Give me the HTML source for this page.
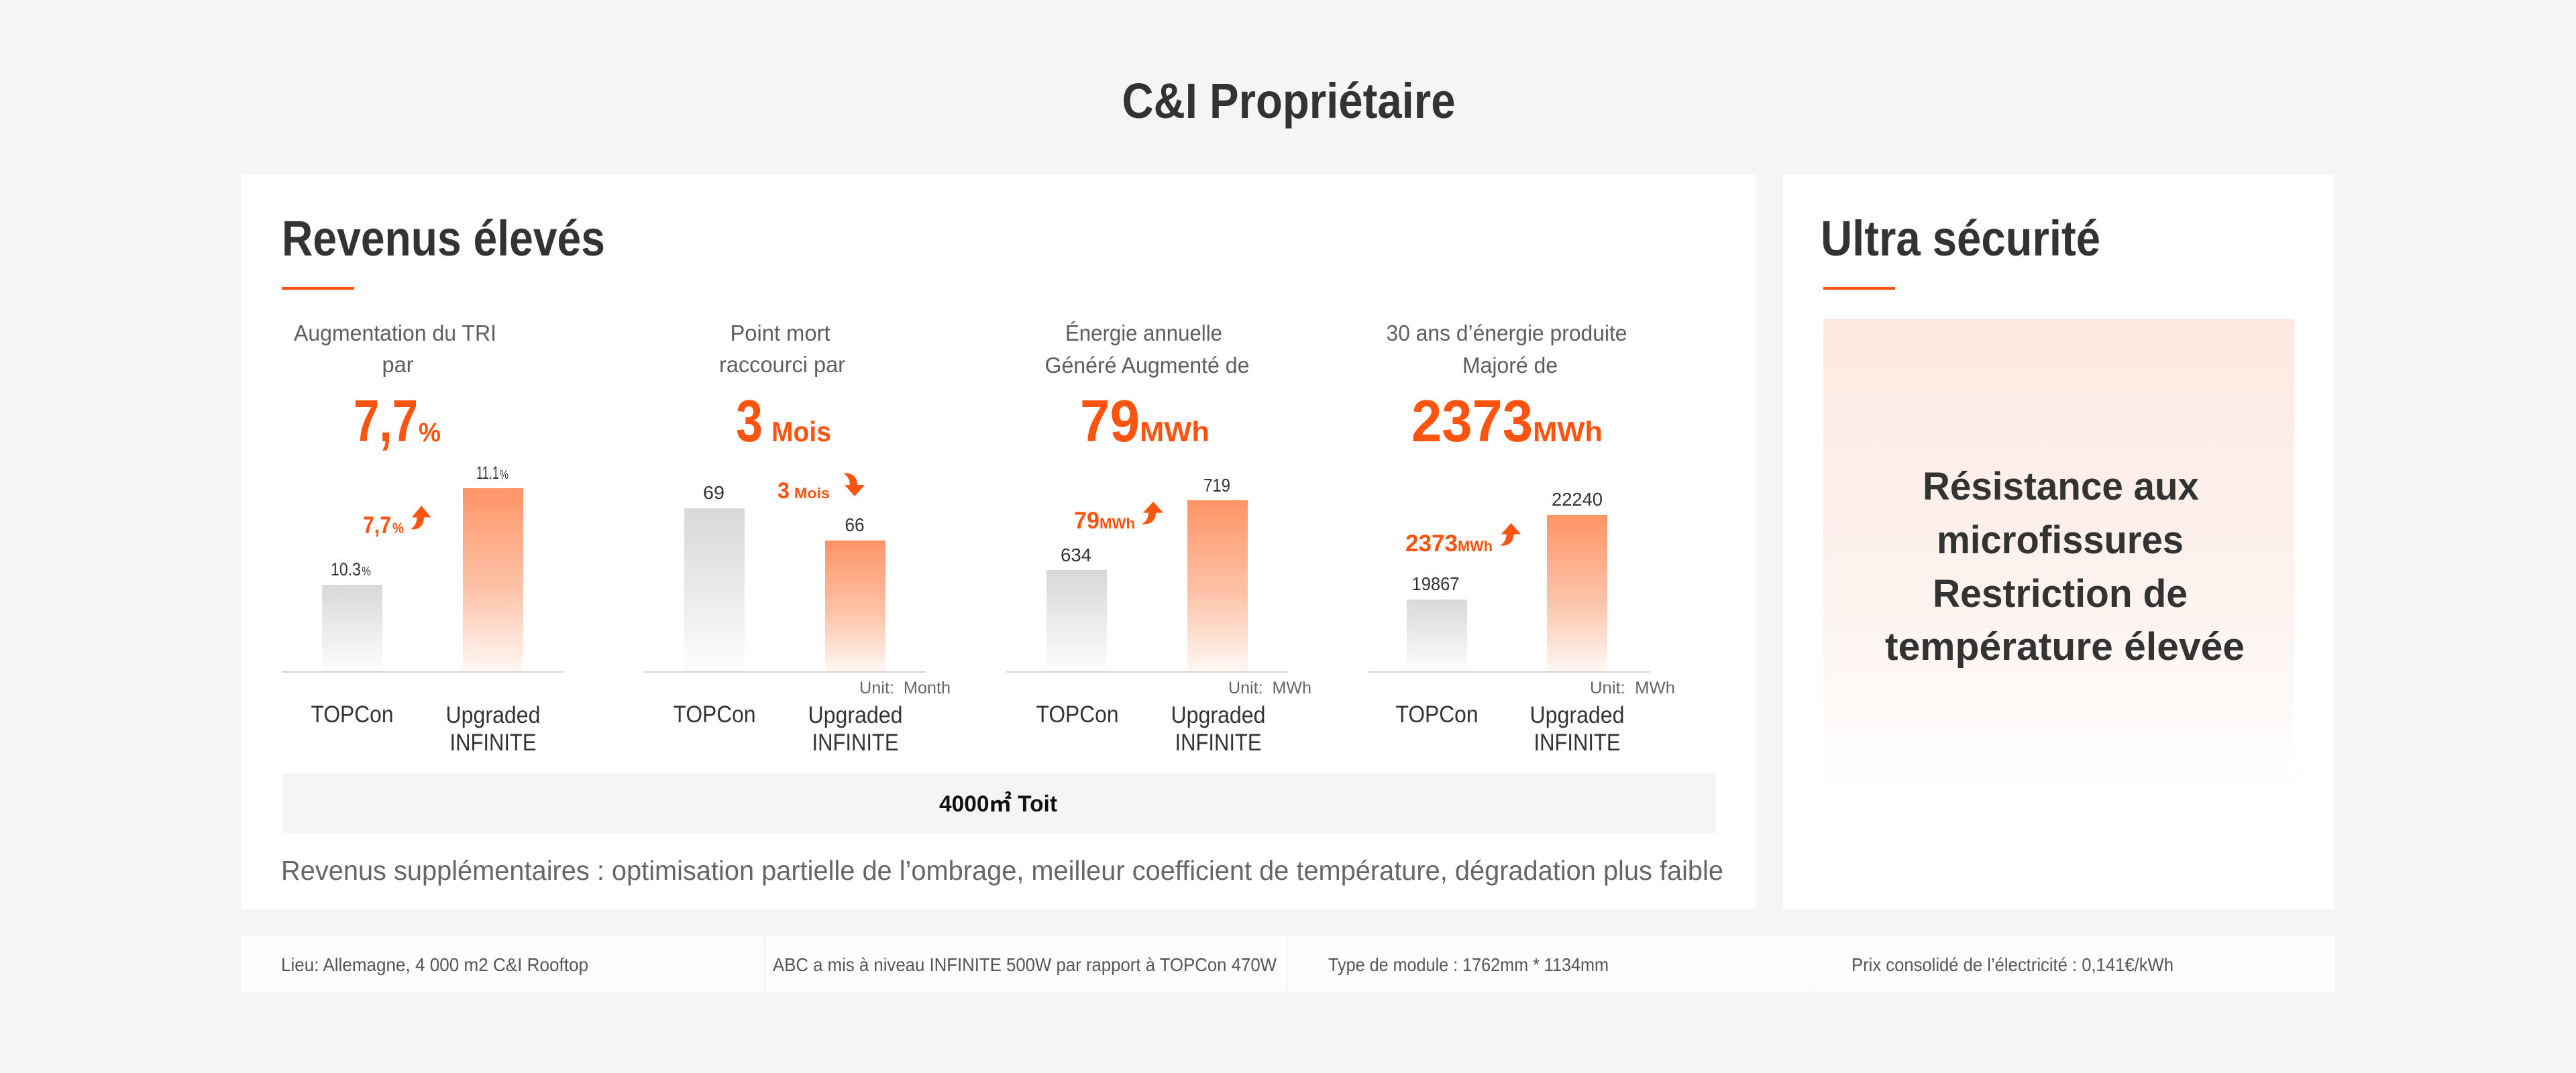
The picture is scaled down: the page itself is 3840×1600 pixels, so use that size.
<!DOCTYPE html>
<html>
<head>
<meta charset="utf-8">
<style>
html,body{margin:0;padding:0;background:#f5f5f5;}
svg{display:block;}
text{font-family:"Liberation Sans","Noto Sans CJK JP",sans-serif;}
</style>
</head>
<body>
<svg width="3840" height="1600" viewBox="0 0 3840 1600" xmlns="http://www.w3.org/2000/svg">
<defs>
<linearGradient id="gb" x1="0" y1="0" x2="0" y2="1">
<stop offset="0" stop-color="#d8d8d8"/>
<stop offset="1" stop-color="#fdfdfd"/>
</linearGradient>
<linearGradient id="ob" x1="0" y1="0" x2="0" y2="1">
<stop offset="0" stop-color="#ff9466"/>
<stop offset="0.55" stop-color="#fdc3a8"/>
<stop offset="1" stop-color="#fff8f4"/>
</linearGradient>
<linearGradient id="pk" x1="0" y1="0" x2="0" y2="1">
<stop offset="0" stop-color="#fde9e1"/>
<stop offset="0.6" stop-color="#fdf3ef"/>
<stop offset="1" stop-color="#ffffff"/>
</linearGradient>
<path id="up" d="M0,34 C14,36 21,28 21,17 L32,17 L17,0 L2,17 L10,17 C10,25 6,31 0,34 Z"/>
</defs>

<rect x="0" y="0" width="3840" height="1600" fill="#f5f5f5"/>

<!-- Title -->
<text x="1921" y="176" font-size="74" font-weight="700" fill="#333" text-anchor="middle" textLength="497" lengthAdjust="spacingAndGlyphs">C&amp;I Propriétaire</text>

<!-- Cards -->
<rect x="360" y="260" width="2258" height="1096" fill="#ffffff"/>
<rect x="2658" y="260" width="821" height="1096" fill="#ffffff"/>

<!-- Left card heading -->
<text x="420" y="381" font-size="74" font-weight="700" fill="#333" textLength="482" lengthAdjust="spacingAndGlyphs">Revenus élevés</text>
<rect x="420" y="428" width="108" height="4" fill="#ff5310"/>

<!-- Column headers -->
<g font-size="33" fill="#5e5e5e" text-anchor="middle">
<text x="589" y="508" textLength="302" lengthAdjust="spacingAndGlyphs">Augmentation du TRI</text>
<text x="593" y="555" textLength="47" lengthAdjust="spacingAndGlyphs">par</text>
<text x="1163" y="508" textLength="149" lengthAdjust="spacingAndGlyphs">Point mort</text>
<text x="1166" y="555" textLength="188" lengthAdjust="spacingAndGlyphs">raccourci par</text>
<text x="1705" y="508" textLength="234" lengthAdjust="spacingAndGlyphs">Énergie annuelle</text>
<text x="1710" y="556" textLength="305" lengthAdjust="spacingAndGlyphs">Généré Augmenté de</text>
<text x="2246" y="508" textLength="359" lengthAdjust="spacingAndGlyphs">30 ans d’énergie produite</text>
<text x="2251" y="556" textLength="142" lengthAdjust="spacingAndGlyphs">Majoré de</text>
</g>

<!-- Big numbers -->
<g font-weight="700" fill="#ff5310">
<text x="527" y="658" font-size="88" textLength="96" lengthAdjust="spacingAndGlyphs">7,7</text>
<text x="624" y="658" font-size="40" textLength="33" lengthAdjust="spacingAndGlyphs">%</text>
<text x="1097" y="658" font-size="88" textLength="40" lengthAdjust="spacingAndGlyphs">3</text>
<text x="1150" y="658" font-size="42" textLength="89" lengthAdjust="spacingAndGlyphs">Mois</text>
<text x="1610" y="658" font-size="88" textLength="89" lengthAdjust="spacingAndGlyphs">79</text>
<text x="1699" y="658" font-size="42" textLength="104" lengthAdjust="spacingAndGlyphs">MWh</text>
<text x="2104" y="658" font-size="88" textLength="181" lengthAdjust="spacingAndGlyphs">2373</text>
<text x="2285" y="658" font-size="42" textLength="104" lengthAdjust="spacingAndGlyphs">MWh</text>
</g>

<!-- Bars -->
<rect x="480" y="872" width="90" height="129" fill="url(#gb)"/>
<rect x="690" y="728" width="90" height="273" fill="url(#ob)"/>
<rect x="1020" y="758" width="90" height="243" fill="url(#gb)"/>
<rect x="1230" y="806" width="90" height="195" fill="url(#ob)"/>
<rect x="1560" y="850" width="90" height="151" fill="url(#gb)"/>
<rect x="1770" y="746" width="90" height="255" fill="url(#ob)"/>
<rect x="2097" y="894" width="90" height="107" fill="url(#gb)"/>
<rect x="2306" y="768" width="90" height="233" fill="url(#ob)"/>

<!-- Axes -->
<rect x="420" y="1001" width="420" height="2" fill="#d2d2d2"/>
<rect x="960" y="1001" width="420" height="2" fill="#d2d2d2"/>
<rect x="1500" y="1001" width="420" height="2" fill="#d2d2d2"/>
<rect x="2040" y="1001" width="420" height="2" fill="#d2d2d2"/>

<!-- Value labels -->
<g fill="#333">
<text x="493" y="858" font-size="27" textLength="45" lengthAdjust="spacingAndGlyphs">10.3</text>
<text x="539" y="858" font-size="18" textLength="14" lengthAdjust="spacingAndGlyphs">%</text>
<text x="710" y="714" font-size="27" textLength="34" lengthAdjust="spacingAndGlyphs">11.1</text>
<text x="745" y="714" font-size="18" textLength="13" lengthAdjust="spacingAndGlyphs">%</text>
<text x="1064" y="744" font-size="28" text-anchor="middle" textLength="32" lengthAdjust="spacingAndGlyphs">69</text>
<text x="1274" y="792" font-size="28" text-anchor="middle" textLength="29" lengthAdjust="spacingAndGlyphs">66</text>
<text x="1604" y="837" font-size="28" text-anchor="middle" textLength="46" lengthAdjust="spacingAndGlyphs">634</text>
<text x="1814" y="733" font-size="28" text-anchor="middle" textLength="40" lengthAdjust="spacingAndGlyphs">719</text>
<text x="2140" y="880" font-size="28" text-anchor="middle" textLength="71" lengthAdjust="spacingAndGlyphs">19867</text>
<text x="2351" y="754" font-size="28" text-anchor="middle" textLength="76" lengthAdjust="spacingAndGlyphs">22240</text>
</g>

<!-- Orange annotations -->
<g font-weight="700" fill="#ff5310">
<text x="541" y="795" font-size="35" textLength="42" lengthAdjust="spacingAndGlyphs">7,7</text>
<text x="585" y="795" font-size="22" textLength="17" lengthAdjust="spacingAndGlyphs">%</text>
<text x="1159" y="743" font-size="34" textLength="18" lengthAdjust="spacingAndGlyphs">3</text>
<text x="1184" y="743" font-size="22" textLength="53" lengthAdjust="spacingAndGlyphs">Mois</text>
<text x="1601" y="788" font-size="35" textLength="38" lengthAdjust="spacingAndGlyphs">79</text>
<text x="1639" y="788" font-size="22" textLength="53" lengthAdjust="spacingAndGlyphs">MWh</text>
<text x="2095" y="822" font-size="35" textLength="78" lengthAdjust="spacingAndGlyphs">2373</text>
<text x="2173" y="822" font-size="22" textLength="52" lengthAdjust="spacingAndGlyphs">MWh</text>
</g>
<g fill="#ff5310">
<use href="#up" transform="translate(612,754) scale(0.95,1.03)"/>
<use href="#up" transform="translate(1702,748) scale(1,0.98)"/>
<use href="#up" transform="translate(2236,780) scale(0.97,0.98)"/>
<use href="#up" transform="translate(1257,740) scale(1,-1)"/>
</g>

<!-- Unit labels -->
<g font-size="25" fill="#666">
<text x="1281" y="1034" textLength="136" lengthAdjust="spacingAndGlyphs">Unit:&#160; Month</text>
<text x="1831" y="1034" textLength="124" lengthAdjust="spacingAndGlyphs">Unit:&#160; MWh</text>
<text x="2370" y="1034" textLength="127" lengthAdjust="spacingAndGlyphs">Unit:&#160; MWh</text>
</g>

<!-- Category labels -->
<g font-size="35" fill="#333" text-anchor="middle">
<text x="525" y="1077" textLength="123" lengthAdjust="spacingAndGlyphs">TOPCon</text>
<text x="735" y="1078" textLength="141" lengthAdjust="spacingAndGlyphs">Upgraded</text>
<text x="735" y="1119" textLength="129" lengthAdjust="spacingAndGlyphs">INFINITE</text>
<text x="1065" y="1077" textLength="123" lengthAdjust="spacingAndGlyphs">TOPCon</text>
<text x="1275" y="1078" textLength="141" lengthAdjust="spacingAndGlyphs">Upgraded</text>
<text x="1275" y="1119" textLength="129" lengthAdjust="spacingAndGlyphs">INFINITE</text>
<text x="1606" y="1077" textLength="123" lengthAdjust="spacingAndGlyphs">TOPCon</text>
<text x="1816" y="1078" textLength="141" lengthAdjust="spacingAndGlyphs">Upgraded</text>
<text x="1816" y="1119" textLength="129" lengthAdjust="spacingAndGlyphs">INFINITE</text>
<text x="2142" y="1077" textLength="123" lengthAdjust="spacingAndGlyphs">TOPCon</text>
<text x="2351" y="1078" textLength="141" lengthAdjust="spacingAndGlyphs">Upgraded</text>
<text x="2351" y="1119" textLength="129" lengthAdjust="spacingAndGlyphs">INFINITE</text>
</g>

<!-- Grey roof box -->
<rect x="420" y="1153" width="2138" height="89" fill="#f5f5f5"/>
<text x="1488" y="1210" font-size="34" font-weight="700" fill="#111" text-anchor="middle" textLength="176" lengthAdjust="spacingAndGlyphs">4000㎡ Toit</text>

<text x="419" y="1312" font-size="41" fill="#666" textLength="2150" lengthAdjust="spacingAndGlyphs">Revenus supplémentaires : optimisation partielle de l’ombrage, meilleur coefficient de température, dégradation plus faible</text>

<!-- Right card -->
<text x="2714" y="381" font-size="74" font-weight="700" fill="#333" textLength="417" lengthAdjust="spacingAndGlyphs">Ultra sécurité</text>
<rect x="2718" y="428" width="107" height="4" fill="#ff5310"/>
<rect x="2718" y="476" width="702" height="704" fill="url(#pk)"/>
<g font-size="58" font-weight="700" fill="#333" text-anchor="middle">
<text x="3072" y="745" textLength="412" lengthAdjust="spacingAndGlyphs">Résistance aux</text>
<text x="3071" y="825" textLength="368" lengthAdjust="spacingAndGlyphs">microfissures</text>
<text x="3071" y="905" textLength="380" lengthAdjust="spacingAndGlyphs">Restriction de</text>
<text x="3078" y="984" textLength="536" lengthAdjust="spacingAndGlyphs">température élevée</text>
</g>

<!-- Bottom bar -->
<rect x="360" y="1396" width="3120" height="83" fill="#fdfdfd"/>
<rect x="1139" y="1396" width="1" height="83" fill="#ececec"/>
<rect x="1918" y="1396" width="1" height="83" fill="#ececec"/>
<rect x="2699" y="1396" width="1" height="83" fill="#ececec"/>
<g font-size="28" fill="#555">
<text x="419" y="1448" textLength="458" lengthAdjust="spacingAndGlyphs">Lieu: Allemagne, 4 000 m2 C&amp;I Rooftop</text>
<text x="1152" y="1448" textLength="751" lengthAdjust="spacingAndGlyphs">ABC a mis à niveau INFINITE 500W par rapport à TOPCon 470W</text>
<text x="1980" y="1448" textLength="418" lengthAdjust="spacingAndGlyphs">Type de module : 1762mm * 1134mm</text>
<text x="2760" y="1448" textLength="480" lengthAdjust="spacingAndGlyphs">Prix consolidé de l’électricité : 0,141€/kWh</text>
</g>
</svg>
</body>
</html>
